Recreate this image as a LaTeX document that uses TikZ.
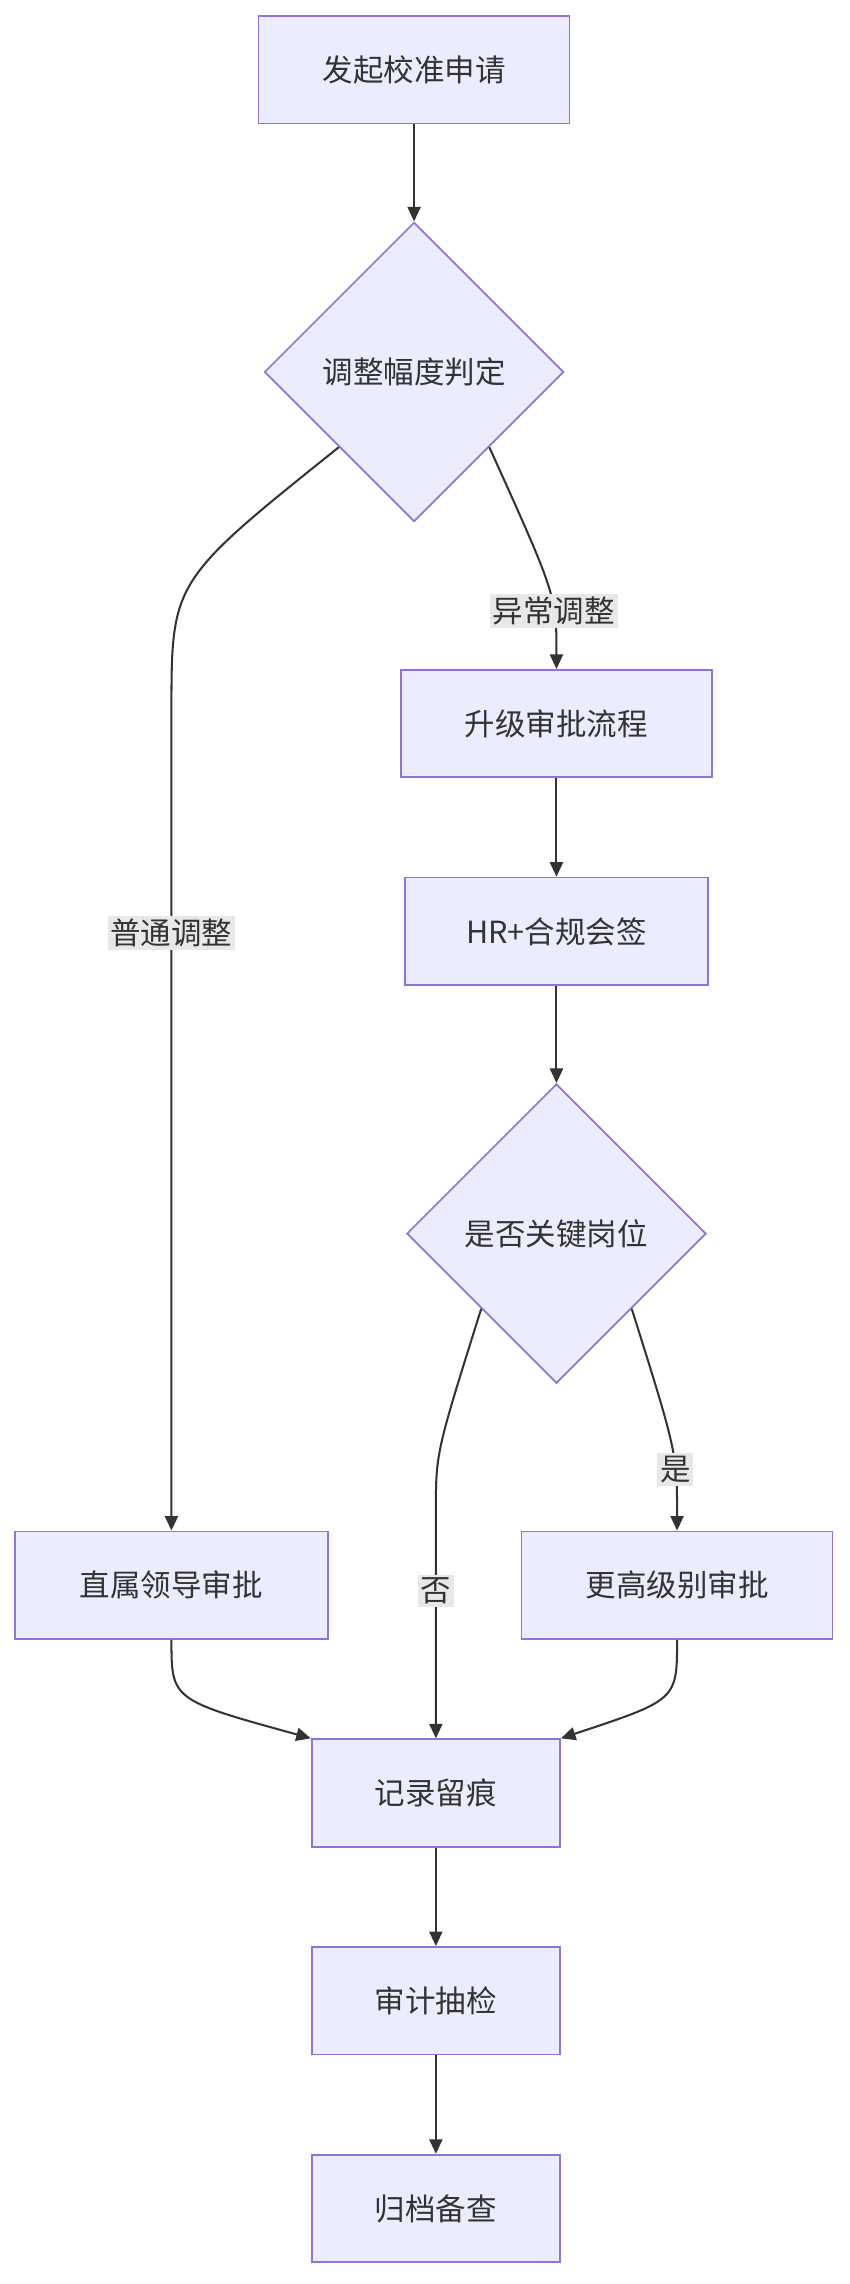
\documentclass[tikz,border=0pt]{standalone}
\usepackage{fontspec}
\setmainfont{Noto Sans CJK SC}
\usetikzlibrary{shapes.geometric,arrows.meta}
\definecolor{boxfill}{HTML}{ECECFF}
\definecolor{boxline}{HTML}{9370DB}
\definecolor{edgeline}{HTML}{333333}
\definecolor{lblfill}{HTML}{E8E8E8}
\tikzset{
  box/.style={draw=boxline, fill=boxfill, rectangle, line width=1.2pt, minimum height=74pt, font=\fontsize{21}{24}\selectfont, text=edgeline},
  dia/.style={draw=boxline, fill=boxfill, diamond, aspect=1, line width=1.2pt, minimum width=206pt, minimum height=206pt, inner sep=0pt, font=\fontsize{21}{24}\selectfont, text=edgeline},
  flow/.style={draw=edgeline, line width=1.4pt, -{Triangle[length=10pt,width=9pt]}},
  lbl/.style={fill=lblfill, inner sep=2pt, font=\fontsize{21}{24}\selectfont, text=edgeline}
}
\begin{document}
\begin{tikzpicture}[x=1pt,y=-1pt]
\useasboundingbox (0,0) rectangle (585,1572);
\node[box, minimum width=214pt](start) at (285,48) {发起校准申请};
\node[dia](d1) at (285,256) {调整幅度判定};
\node[box, minimum width=214pt](up) at (383,498) {升级审批流程};
\node[box, minimum width=209pt](hr) at (383,641) {HR+合规会签};
\node[dia](d2) at (383,849) {是否关键岗位};
\node[box, minimum width=215pt](direct) at (118,1091) {直属领导审批};
\node[box, minimum width=214pt](higher) at (466,1091) {更高级别审批};
\node[box, minimum width=171pt](record) at (300,1234) {记录留痕};
\node[box, minimum width=171pt](audit) at (300,1377) {审计抽检};
\node[box, minimum width=171pt](archive) at (300,1520) {归档备查};

\draw[flow](start) to (d1);
\draw[flow](d1.south west) .. controls (118,400) .. (118,490) -- node[lbl, pos=0.27]{普通调整} (direct.north);
\draw[flow](d1.south east) .. controls (383,410) .. node[lbl, pos=0.66]{异常调整} (up.north);
\draw[flow](up) to (hr);
\draw[flow](hr) to (d2);
\draw[flow](d2.south east) .. controls (466,1000) .. node[lbl, pos=0.66]{是} (higher.north);
\draw[flow](d2.south west) .. controls (300,1000) .. (300,1040) -- node[lbl, pos=0.35]{否} (record.north);
\draw[flow](direct.south) .. controls (118,1170) .. (record.north west);
\draw[flow](higher.south) .. controls (466,1170) .. (record.north east);
\draw[flow](record) to (audit);
\draw[flow](audit) to (archive);
\end{tikzpicture}
\end{document}
